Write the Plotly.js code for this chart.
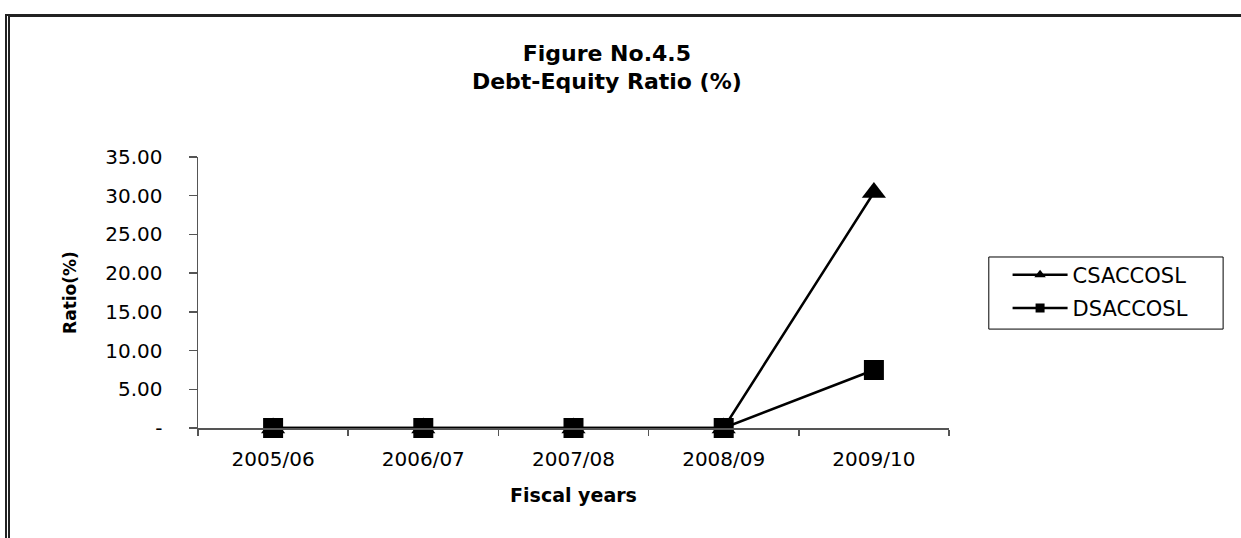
<!DOCTYPE html>
<html>
<head>
<meta charset="utf-8">
<script src="https://cdn.plot.ly/plotly-3.0.1.min.js"></script>
<style>
  html, body { margin: 0; padding: 0; background: #fff; }
  #wrap { position: relative; width: 1241px; height: 538px; }
  #chart { width: 1241px; height: 538px; }
  /* page frame: double rule on the left, heavy rule on top */
  #frame {
    position: absolute; left: 5px; top: 14px; width: 1240px; height: 530px;
    border-left: 5px double #222; border-top: 3px solid #222;
    box-sizing: border-box; pointer-events: none;
  }
</style>
</head>
<body>
<div id="wrap">
  <div id="chart"></div>
  <div id="frame"></div>
</div>
<script>
// Fiscal years on the category axis
const fiscalYears = ['2005/06', '2006/07', '2007/08', '2008/09', '2009/10'];

// Debt-equity ratio (%) per fiscal year
const csaccoslRatio = [0, 0, 0, 0, 30.42];
const dsaccoslRatio = [0, 0, 0, 0, 7.49];

// Value-axis ticks (zero shown as a dash, accounting style)
const yTickValues = [0, 5, 10, 15, 20, 25, 30, 35];
const yTickLabels = ['-', '5.00', '10.00', '15.00', '20.00', '25.00', '30.00', '35.00'];

const seriesNames = ['CSACCOSL', 'DSACCOSL'];

const FONT = 'DejaVu Sans, Arial, sans-serif';

const traces = [
  {
    x: fiscalYears, y: csaccoslRatio, name: seriesNames[0], type: 'scatter',
    mode: 'lines+markers', showlegend: false, cliponaxis: false,
    line: { color: '#000', width: 2.5 },
    marker: { symbol: 'triangle-up', size: 21, color: '#000' }
  },
  {
    x: fiscalYears, y: dsaccoslRatio, name: seriesNames[1], type: 'scatter',
    mode: 'lines+markers', showlegend: false, cliponaxis: false,
    line: { color: '#000', width: 2.5 },
    marker: { symbol: 'square', size: 20, color: '#000' }
  },
  // legend keys with small markers
  {
    x: [null], y: [null], name: seriesNames[0], type: 'scatter', legendgroup: 'c',
    mode: 'lines+markers', line: { color: '#000', width: 2.5 },
    marker: { symbol: 'triangle-up', size: 10, color: '#000' }
  },
  {
    x: [null], y: [null], name: seriesNames[1], type: 'scatter', legendgroup: 'd',
    mode: 'lines+markers', line: { color: '#000', width: 2.5 },
    marker: { symbol: 'square', size: 9, color: '#000' }
  }
];

// legend frame, in plot-area fractions
const legendBox = { x0: 1.053, x1: 1.365, y0: 0.365, y1: 0.631 };

const layout = {
  width: 1241, height: 538,
  paper_bgcolor: '#fff', plot_bgcolor: '#fff',
  margin: { l: 198, r: 292, t: 157, b: 110 },
  font: { family: FONT, color: '#000' },
  title: {
    text: '<b>Figure No.4.5</b><br><b>Debt-Equity Ratio (%)</b>',
    font: { family: FONT, size: 22, color: '#000' },
    x: 0.489, xanchor: 'center', xref: 'container',
    y: 0.887, yanchor: 'top', yref: 'container'
  },
  xaxis: {
    type: 'category',
    range: [-0.5, 4.5],
    showline: true, linecolor: '#555', linewidth: 1.5,
    showgrid: false, zeroline: false,
    ticks: 'outside', tickson: 'boundaries', ticklen: 6, tickcolor: '#555', tickwidth: 1.5,
    tickfont: { family: FONT, size: 20, color: '#000' },
    ticklabelstandoff: 12,
    title: { text: '<b>Fiscal years</b>', font: { family: FONT, size: 19, color: '#000' }, standoff: 19 },
    fixedrange: true
  },
  yaxis: {
    range: [0, 35],
    showline: true, linecolor: '#555', linewidth: 1.5,
    showgrid: false, zeroline: false,
    tickvals: yTickValues, ticktext: yTickLabels,
    ticks: 'outside', ticklen: 8, tickcolor: '#555', tickwidth: 1.5,
    tickfont: { family: FONT, size: 20, color: '#000' },
    ticklabelstandoff: 22,
    title: { text: '<b>Ratio(%)</b>', font: { family: FONT, size: 17, color: '#000' }, standoff: 24 },
    fixedrange: true
  },
  shapes: [{
    type: 'rect', xref: 'paper', yref: 'paper',
    x0: legendBox.x0, x1: legendBox.x1, y0: legendBox.y0, y1: legendBox.y1,
    line: { color: '#000', width: 1 }, fillcolor: 'rgba(0,0,0,0)', layer: 'above'
  }],
  legend: {
    x: 1.078, xanchor: 'left', y: 0.64, yanchor: 'top',
    borderwidth: 0, bgcolor: 'rgba(0,0,0,0)',
    font: { family: FONT, size: 21, color: '#000' },
    traceorder: 'grouped', tracegroupgap: 3, itemwidth: 55
  },
  showlegend: true
};

Plotly.newPlot('chart', traces, layout, { staticPlot: true, displayModeBar: false });
</script>
</body>
</html>
